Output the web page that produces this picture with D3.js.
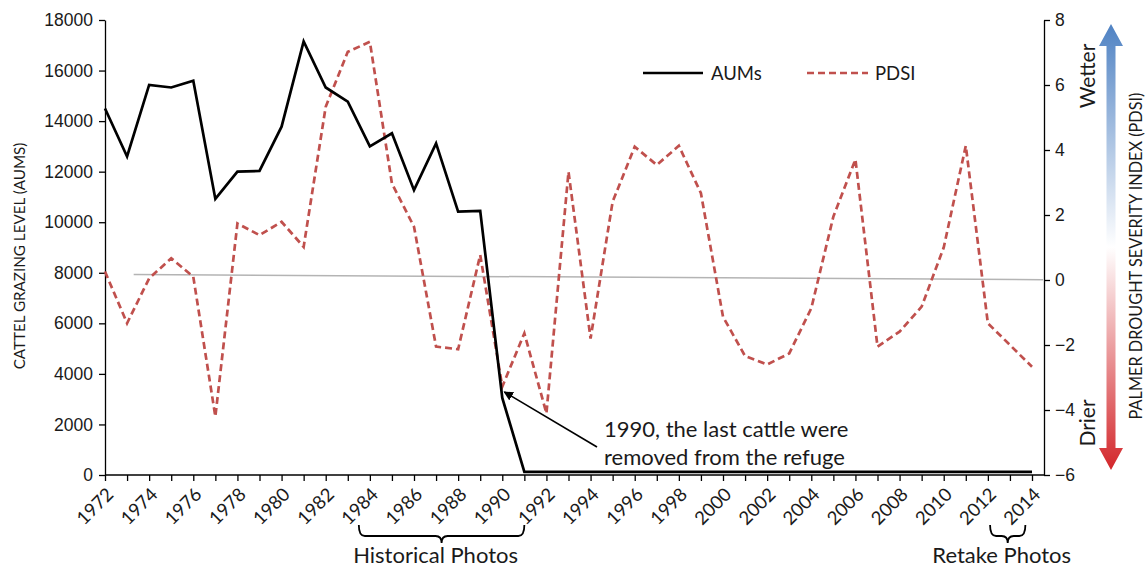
<!DOCTYPE html>
<html>
<head>
<meta charset="utf-8">
<script src="https://cdn.jsdelivr.net/npm/d3@7"></script>
<style>
  body { margin: 0; background: #fff; }
  svg { font-family: Lato, "Open Sans", sans-serif; }
</style>
</head>
<body>
<svg id="chart" width="1145" height="569"></svg>
<script>
// data
const years = [1972, 1973, 1974, 1975, 1976, 1977, 1978, 1979, 1980, 1981,
  1982, 1983, 1984, 1985, 1986, 1987, 1988, 1989, 1990, 1991,
  1992, 1993, 1994, 1995, 1996, 1997, 1998, 1999, 2000, 2001,
  2002, 2003, 2004, 2005, 2006, 2007, 2008, 2009, 2010, 2011,
  2012, 2013, 2014];
const aums = [14500, 12600, 15430, 15330, 15600, 10920, 12000, 12030, 13780, 17150,
  15330, 14770, 13000, 13520, 11270, 13120, 10420, 10450, 3050, 120,
  120, 120, 120, 120, 120, 120, 120, 120, 120, 120,
  120, 120, 120, 120, 120, 120, 120, 120, 120, 120,
  120, 120, 120];
const pdsi = [0.26, -1.33, 0.05, 0.67, 0.1, -4.2, 1.74, 1.38, 1.79, 1.02,
  5.33, 7.02, 7.33, 2.97, 1.64, -2.05, -2.13, 0.77, -3.28, -1.64,
  -4.1, 3.33, -1.8, 2.41, 4.1, 3.54, 4.13, 2.67, -1.13, -2.34,
  -2.6, -2.26, -0.87, 1.95, 3.71, -2.05, -1.59, -0.82, 1.0, 4.13,
  -1.33, -2.0, -2.67];
const trendYears = [1973.3, 2014.5];
const trendPdsi = [0.17, 0.01];
const leftTicks = [0, 2000, 4000, 6000, 8000, 10000, 12000, 14000, 16000, 18000];
const rightTicks = [-6, -4, -2, 0, 2, 4, 6, 8];
const labelYears = [1972, 1974, 1976, 1978, 1980, 1982, 1984, 1986, 1988, 1990, 1992,
  1994, 1996, 1998, 2000, 2002, 2004, 2006, 2008, 2010, 2012, 2014];
const braces = [
  { from: 1983.5, to: 1991.0, label: "Historical Photos" },
  { from: 2012.1, to: 2013.7, label: "Retake Photos" }
];

const svg = d3.select("#chart");
const ink = "#1a1a1a";
const red = "#c0504d";

const x = d3.scaleLinear().domain([1972, 2014]).range([105, 1032]);
const yL = d3.scaleLinear().domain([0, 18000]).range([475, 20]);
const yR = d3.scaleLinear().domain([-6, 8]).range([475, 20]);
const axisRight = 1044;

// gradient for the wetter/drier arrow
const defs = svg.append("defs");
const grad = defs.append("linearGradient")
  .attr("id", "wetdry").attr("x1", 0).attr("y1", 0).attr("x2", 0).attr("y2", 1);
grad.append("stop").attr("offset", "0%").attr("stop-color", "#4f82c3");
grad.append("stop").attr("offset", "50%").attr("stop-color", "#ffffff");
grad.append("stop").attr("offset", "100%").attr("stop-color", "#d3272b");

// left axis
const gL = svg.append("g")
  .attr("transform", "translate(105,0)")
  .call(d3.axisLeft(yL).tickValues(leftTicks).tickFormat(d3.format("d"))
    .tickSize(6).tickSizeOuter(0).tickPadding(6));
gL.selectAll("text").style("font-size", "17.5px").style("fill", ink);

// right axis
const gR = svg.append("g")
  .attr("transform", `translate(${axisRight},0)`)
  .call(d3.axisRight(yR).tickValues(rightTicks).tickSize(6).tickSizeOuter(0).tickPadding(5));
gR.selectAll("text").style("font-size", "17.5px").style("fill", ink);

// bottom axis: a tick every year, label every other year
const gB = svg.append("g")
  .attr("transform", "translate(0,475)")
  .call(d3.axisBottom(x).tickValues(years).tickSize(6).tickSizeOuter(0).tickFormat(""));
gB.select(".domain").remove();
svg.append("line")
  .attr("x1", x(1972)).attr("x2", axisRight)
  .attr("y1", 475).attr("y2", 475)
  .attr("stroke", "#000").attr("stroke-width", 1.3);

svg.selectAll(".domain, .tick line").attr("stroke", "#000").attr("stroke-width", 1.3);

svg.append("g").selectAll("text")
  .data(labelYears)
  .enter()
  .append("text")
  .attr("transform", d => `translate(${x(d) + 5},${491}) rotate(-45)`)
  .attr("text-anchor", "end")
  .attr("dy", "0.35em")
  .style("font-size", "18.5px")
  .style("fill", ink)
  .text(d => d);

// trend line
svg.append("line")
  .attr("x1", x(trendYears[0])).attr("y1", yR(trendPdsi[0]))
  .attr("x2", x(trendYears[1])).attr("y2", yR(trendPdsi[1]))
  .attr("stroke", "#b4b4b4").attr("stroke-width", 1.5);

// series
const aumLine = d3.line().x((d, i) => x(years[i])).y(d => yL(d));
const pdsiLine = d3.line().x((d, i) => x(years[i])).y(d => yR(d));

svg.append("path")
  .datum(pdsi)
  .attr("d", pdsiLine)
  .attr("fill", "none")
  .attr("stroke", red)
  .attr("stroke-width", 2.7)
  .attr("stroke-dasharray", "7,4");

svg.append("path")
  .datum(aums)
  .attr("d", aumLine)
  .attr("fill", "none")
  .attr("stroke", "#000")
  .attr("stroke-width", 2.7)
  .attr("stroke-linejoin", "miter");

// legend
svg.append("line").attr("x1", 643).attr("x2", 703).attr("y1", 73).attr("y2", 73)
  .attr("stroke", "#000").attr("stroke-width", 2.7);
svg.append("text").attr("x", 711).attr("y", 80)
  .style("font-size", "18.5px").style("fill", ink).text("AUMs");
svg.append("line").attr("x1", 807).attr("x2", 868).attr("y1", 73).attr("y2", 73)
  .attr("stroke", red).attr("stroke-width", 2.7).attr("stroke-dasharray", "7,4");
svg.append("text").attr("x", 875).attr("y", 80)
  .style("font-size", "18.5px").style("fill", ink).text("PDSI");

// axis titles
svg.append("text")
  .attr("transform", `translate(25,256) rotate(-90)`)
  .attr("text-anchor", "middle")
  .style("font-size", "15.2px")
  .style("fill", ink)
  .text("CATTEL GRAZING LEVEL (AUMS)");

svg.append("text")
  .attr("transform", `translate(1142,256) rotate(-90)`)
  .attr("text-anchor", "middle")
  .style("font-size", "16.3px")
  .style("fill", ink)
  .text("PALMER DROUGHT SEVERITY INDEX (PDSI)");

svg.append("text")
  .attr("transform", "translate(1095,76) rotate(-90)")
  .attr("text-anchor", "middle")
  .style("font-size", "21px")
  .style("fill", ink)
  .text("Wetter");

svg.append("text")
  .attr("transform", "translate(1095,423) rotate(-90)")
  .attr("text-anchor", "middle")
  .style("font-size", "21px")
  .style("fill", ink)
  .text("Drier");

// double-headed gradient arrow
const ax = 1111, aTop = 24, aBot = 470, headH = 22, headW = 12, shaft = 4.5;
svg.append("path")
  .attr("d", `M${ax},${aTop} L${ax + headW},${aTop + headH} L${ax + shaft},${aTop + headH}
    L${ax + shaft},${aBot - headH} L${ax + headW},${aBot - headH} L${ax},${aBot}
    L${ax - headW},${aBot - headH} L${ax - shaft},${aBot - headH} L${ax - shaft},${aTop + headH}
    L${ax - headW},${aTop + headH} Z`)
  .attr("fill", "url(#wetdry)");

// annotation
defs.append("marker")
  .attr("id", "head")
  .attr("viewBox", "0 0 10 10")
  .attr("refX", 9).attr("refY", 5)
  .attr("markerWidth", 6).attr("markerHeight", 6)
  .attr("orient", "auto")
  .append("path").attr("d", "M0,0 L10,5 L0,10 Z").attr("fill", "#000");

svg.append("line")
  .attr("x1", 597).attr("y1", 447)
  .attr("x2", x(1990) + 2).attr("y2", yL(aums[18]) - 6)
  .attr("stroke", "#000").attr("stroke-width", 1.6)
  .attr("marker-end", "url(#head)");

svg.append("text").attr("x", 604).attr("y", 437)
  .style("font-size", "22px").style("fill", ink)
  .text("1990, the last cattle were");
svg.append("text").attr("x", 604).attr("y", 465)
  .style("font-size", "22px").style("fill", ink)
  .text("removed from the refuge");

// braces under the year labels
const braceTop = 525, braceMid = 536, braceTip = 543;
braces.forEach(b => {
  const x1 = x(b.from), x2 = x(b.to), xm = (x1 + x2) / 2, r = 6;
  svg.append("path")
    .attr("d", `M${x1},${braceTop} Q${x1},${braceMid} ${x1 + r},${braceMid}
      L${xm - r},${braceMid} Q${xm},${braceMid} ${xm},${braceTip}
      Q${xm},${braceMid} ${xm + r},${braceMid}
      L${x2 - r},${braceMid} Q${x2},${braceMid} ${x2},${braceTop}`)
    .attr("fill", "none")
    .attr("stroke", "#000")
    .attr("stroke-width", 1.8);
  svg.append("text")
    .attr("x", xm - 6).attr("y", 563)
    .attr("text-anchor", "middle")
    .style("font-size", "22px")
    .style("fill", ink)
    .text(b.label);
});
</script>
</body>
</html>
